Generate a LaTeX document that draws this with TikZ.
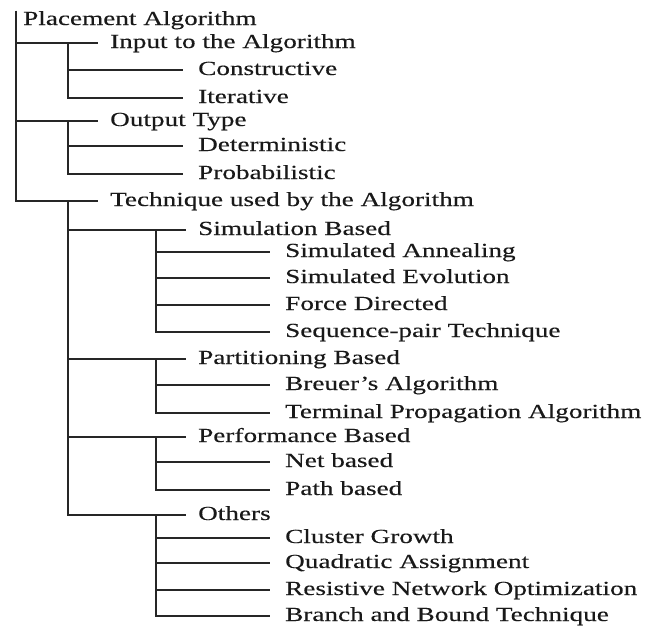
\documentclass[tikz,border=0pt]{standalone}
\usepackage{fontspec}
\setmainfont{Liberation Serif}[FakeStretch=1.36,FakeBold=0.3]
\tikzstyle{entry}=[anchor=west,inner sep=0pt,text height=14pt,text depth=4pt,text=black!90,font=\fontsize{20}{22}\selectfont]
\tikzstyle{limb}=[draw=black!85,line width=1.5pt,shorten >=12pt]
\tikzstyle{twig}=[draw=black!85,line width=1.5pt,shorten >=15pt]

\begin{document}
\begin{tikzpicture}[x=1pt,y=-1pt]
                  \useasboundingbox (0,0) rectangle (656,632);

                  \node (place) at (23,20) [entry] {Placement Algorithm};

                  \node (input) at (110,43) [entry] {Input to the Algorithm};
                  \node (constr) at (198,70) [entry] {Constructive};
                  \node (iter) at (198,98) [entry] {Iterative};

                  \node (output) at (110,121) [entry] {Output Type};
                  \node (determ) at (198,146) [entry] {Deterministic};
                  \node (prob) at (198,174) [entry] {Probabilistic};

                  \node (tech) at (110,201) [entry] {Technique used by the Algorithm};

                  \node (sim) at (198,230) [entry] {Simulation Based};
                  \node (anneal) at (285,252) [entry] {Simulated Annealing};
                  \node (evol) at (285,278) [entry] {Simulated Evolution};
                  \node (force) at (285,305) [entry] {Force Directed};
                  \node (seqpair) at (285,332) [entry] {Sequence-pair Technique};

                  \node (part) at (198,359) [entry] {Partitioning Based};
                  \node (breuer) at (285,385) [entry] {Breuer's Algorithm};
                  \node (termprop) at (285,413) [entry] {Terminal Propagation Algorithm};

                  \node (perf) at (198,437) [entry] {Performance Based};
                  \node (net) at (285,462) [entry] {Net based};
                  \node (path) at (285,490) [entry] {Path based};

                  \node (others) at (198,515) [entry] {Others};
                  \node (cluster) at (285,538) [entry] {Cluster Growth};
                  \node (quad) at (285,563) [entry] {Quadratic Assignment};
                  \node (resist) at (285,590) [entry] {Resistive Network Optimization};
                  \node (branch) at (285,616) [entry] {Branch and Bound Technique};

                  \draw [limb] ([xshift=-7pt]place.north west) |- (input.west);
                  \draw [limb] ([xshift=-7pt]place.north west) |- (output.west);
                  \draw [limb] ([xshift=-7pt]place.north west) |- (tech.west);

                  \draw [twig] ([xshift=-42pt]input.west) |- (constr.west);
                  \draw [twig] ([xshift=-42pt]input.west) |- (iter.west);

                  \draw [twig] ([xshift=-42pt]output.west) |- (determ.west);
                  \draw [twig] ([xshift=-42pt]output.west) |- (prob.west);

                  \draw [limb] ([xshift=-42pt]tech.west) |- (sim.west);
                  \draw [limb] ([xshift=-42pt]tech.west) |- (part.west);
                  \draw [limb] ([xshift=-42pt]tech.west) |- (perf.west);
                  \draw [limb] ([xshift=-42pt]tech.west) |- (others.west);

                  \draw [twig] ([xshift=-42pt]sim.west) |- (anneal.west);
                  \draw [twig] ([xshift=-42pt]sim.west) |- (evol.west);
                  \draw [twig] ([xshift=-42pt]sim.west) |- (force.west);
                  \draw [twig] ([xshift=-42pt]sim.west) |- (seqpair.west);

                  \draw [twig] ([xshift=-42pt]part.west) |- (breuer.west);
                  \draw [twig] ([xshift=-42pt]part.west) |- (termprop.west);

                  \draw [twig] ([xshift=-42pt]perf.west) |- (net.west);
                  \draw [twig] ([xshift=-42pt]perf.west) |- (path.west);

                  \draw [twig] ([xshift=-42pt]others.west) |- (cluster.west);
                  \draw [twig] ([xshift=-42pt]others.west) |- (quad.west);
                  \draw [twig] ([xshift=-42pt]others.west) |- (resist.west);
                  \draw [twig] ([xshift=-42pt]others.west) |- (branch.west);
              \end{tikzpicture}
\end{document}
